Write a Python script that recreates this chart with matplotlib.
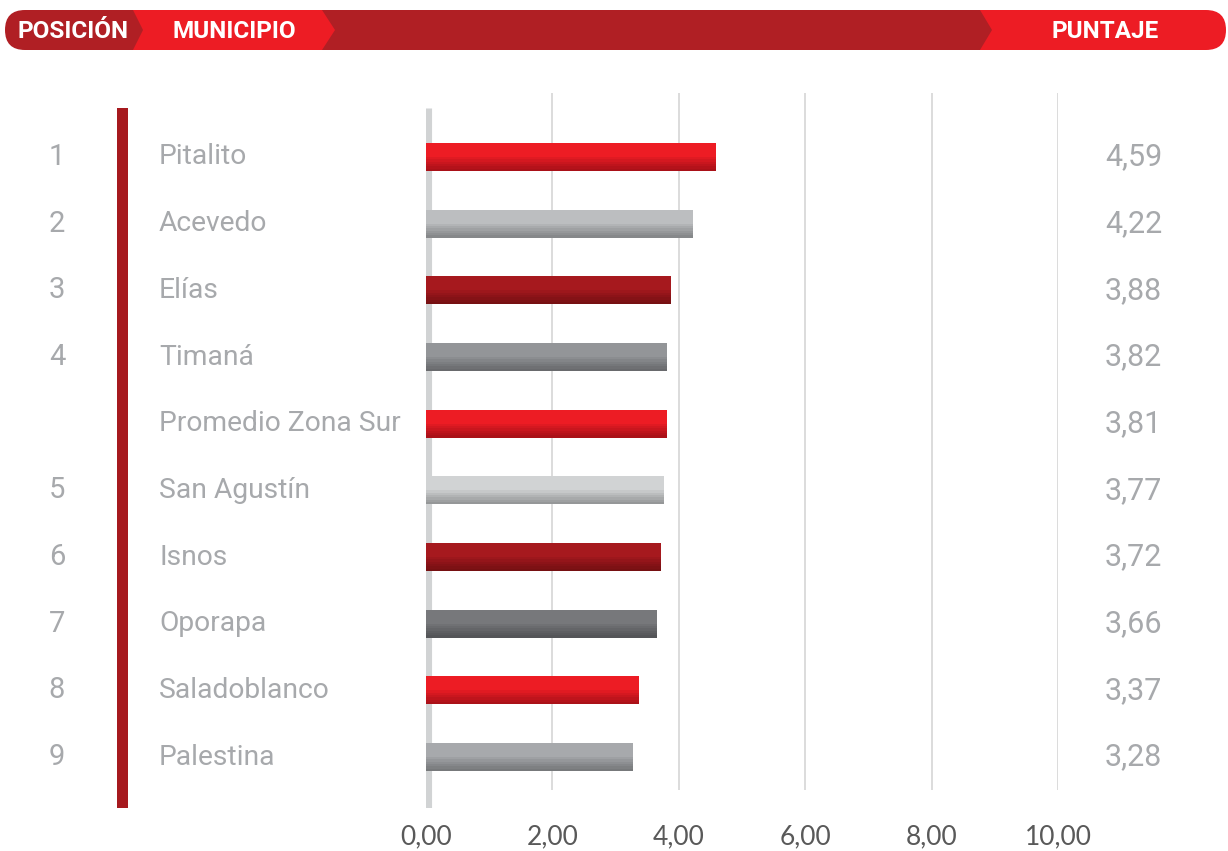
import matplotlib.pyplot as plt
from matplotlib.patches import FancyBboxPatch, Polygon, Rectangle
from matplotlib.transforms import blended_transform_factory

plt.rcParams['font.family'] = ['Roboto', 'DejaVu Sans']

# datos
municipios = ['Pitalito', 'Acevedo', 'Elías', 'Timaná', 'Promedio Zona Sur',
              'San Agustín', 'Isnos', 'Oporapa', 'Saladoblanco', 'Palestina']
posiciones = ['1', '2', '3', '4', '', '5', '6', '7', '8', '9']
puntajes = [4.59, 4.22, 3.88, 3.82, 3.81, 3.77, 3.72, 3.66, 3.37, 3.28]
colores = ['#ED1C24', '#BCBEC0', '#A6191E', '#939598', '#ED1C24',
           '#D1D3D4', '#A6191E', '#77787B', '#ED1C24', '#A7A9AC']
ticks = [0, 2, 4, 6, 8, 10]
tick_labels = ['0,00', '2,00', '4,00', '6,00', '8,00', '10,00']

W, H = 1228, 851
fig = plt.figure(figsize=(W / 100, H / 100), dpi=100)

# capa de decoracion en pixeles
deco = fig.add_axes([0, 0, 1, 1])
deco.set_xlim(0, W)
deco.set_ylim(H, 0)
deco.axis('off')

dark = '#B01F24'
red = '#ED1C24'
deco.add_patch(FancyBboxPatch((25, 10), 1176, 40, boxstyle='round,pad=0,rounding_size=20',
                              fc=dark, ec='none'))
deco.add_patch(Polygon([(133, 10), (322, 10), (335, 30), (322, 50), (133, 50), (143, 30)],
                       fc=red, ec='none'))
deco.add_patch(FancyBboxPatch((920, 10), 306, 40, boxstyle='round,pad=0,rounding_size=20',
                              fc=red, ec='none'))
deco.add_patch(Polygon([(900, 10), (980, 10), (992, 30), (980, 50), (900, 50)],
                       fc=dark, ec='none'))
deco.add_patch(FancyBboxPatch((5, 10), 60, 40, boxstyle='round,pad=0,rounding_size=20',
                              fc=dark, ec='none'))
hdr = dict(color='white', fontsize=17.5, fontweight='bold', va='center', ha='center')
deco.text(73, 31, 'POSICIÓN', **hdr)
deco.text(234, 31, 'MUNICIPIO', **hdr)
deco.text(1105, 31, 'PUNTAJE', **hdr)

# barra vertical roja a la izquierda
deco.add_patch(Rectangle((117, 108), 11, 700, fc='#A6191E', ec='none'))

# eje principal
x0, x10 = 426, 1058
top_px, bot_px = 93, 808
ax = fig.add_axes([x0 / W, 1 - bot_px / H, (x10 - x0) / W, (bot_px - top_px) / H])
ax.patch.set_alpha(0)
step = 66.67
ax.set_xlim(0, 10)
ax.set_ylim((bot_px - 157) / step, (top_px - 157) / step)
for s in ax.spines.values():
    s.set_visible(False)
ax.set_yticks([])
ax.set_xticks([])

ymin_grid = (top_px - 157) / step
ymax_grid = (790 - 157) / step
ax.vlines(ticks[1:], ymin_grid, ymax_grid, color='#D9D9D9', lw=1.3, zorder=0)
ax.vlines(0, (108 - 157) / step, (808 - 157) / step, color='#D1D3D4', lw=8, zorder=0)

ypos = list(range(len(municipios)))
h = 28 / step
ax.barh(ypos, puntajes, height=h, color=colores, zorder=2)
# sombreado inferior
for k in range(6):
    band = h * 0.5 * (k + 1) / 6
    ax.barh([y + h / 2 - band / 2 for y in ypos], puntajes, height=band,
            color='black', alpha=0.05, zorder=3, lw=0)

tr = blended_transform_factory(fig.transFigure, ax.transData)
gray = '#A7A9AC'
for y, pos, name, val in zip(ypos, posiciones, municipios, puntajes):
    ax.text(57 / W, y, pos, transform=tr, ha='center', va='center',
            fontsize=21, color=gray)
    ax.text(159 / W, y, name, transform=tr, ha='left', va='center',
            fontsize=20.3, color=gray)
    ax.text(1162 / W, y, f'{val:.2f}'.replace('.', ','), transform=tr,
            ha='right', va='center', fontsize=22, color=gray)

for t, lab in zip(ticks, tick_labels):
    ax.text(t, (837 - 157) / step, lab, ha='center', va='center', fontsize=19,
            color='#595959', family=['Lato', 'DejaVu Sans'], clip_on=False)

fig.savefig('out.png', dpi=100)
